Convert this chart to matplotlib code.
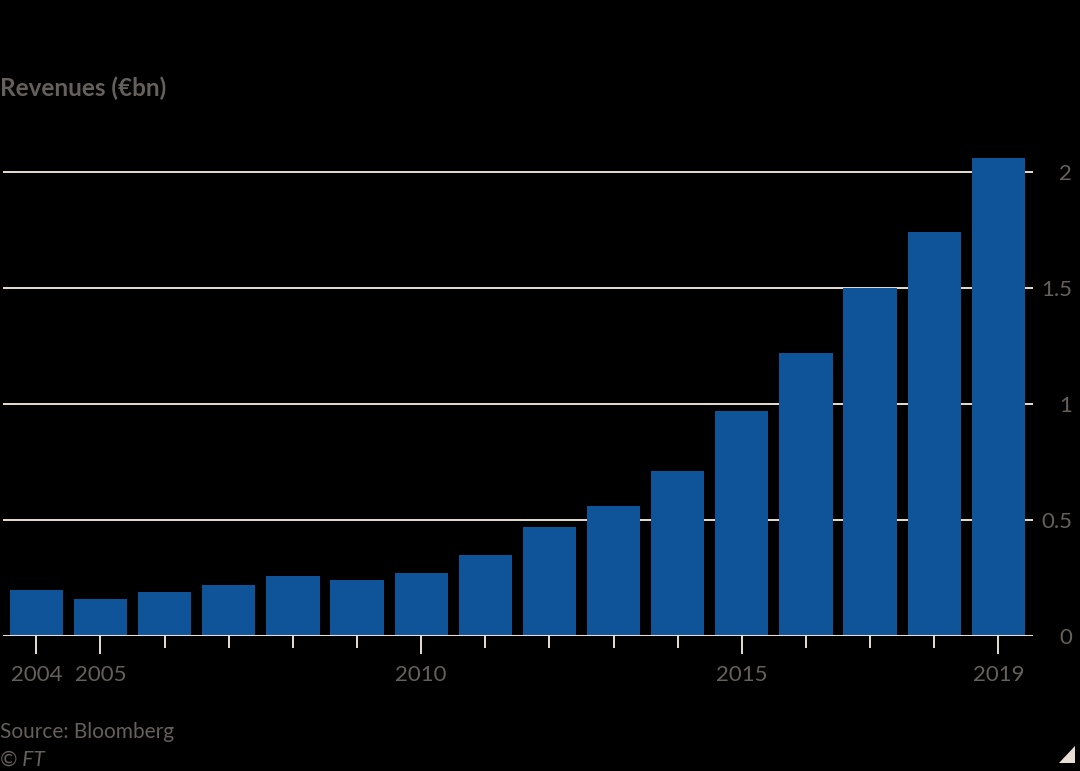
import matplotlib
matplotlib.use("Agg")
import matplotlib.pyplot as plt
from matplotlib.patches import Polygon

years = list(range(2004, 2020))
revenues = [0.20, 0.16, 0.19, 0.22, 0.26, 0.24, 0.27, 0.35, 0.47, 0.56,
            0.71, 0.97, 1.22, 1.50, 1.74, 2.06]
major_years = [2004, 2005, 2010, 2015, 2019]
minor_years = [y for y in years if y not in major_years]
y_ticks = [0, 0.5, 1, 1.5, 2]
y_labels = ["0", "0.5", "1", "1.5", "2"]

BG = "#000000"
BAR = "#0f5499"
GRID = "#e9ded3"
TXT = "#66605c"
FONT = "Lato"

fig = plt.figure(figsize=(10.8, 7.71), dpi=100, facecolor=BG)
ax = fig.add_axes([3/1080, 0.1751, 1030/1080, 0.6319])
ax.set_facecolor(BG)

ax.bar(years, revenues, width=0.83, color=BAR, zorder=2)
ax.axhline(0, color=GRID, lw=1.5, zorder=3)

ax.set_xlim(2003.48, 2019.54)
ax.set_ylim(0, 2.1)
ax.set_axisbelow(True)
ax.grid(axis="y", color=GRID, lw=1.4)
for s in ax.spines.values():
    s.set_visible(False)

ax.set_xticks(major_years)
ax.set_xticklabels([str(y) for y in major_years])
ax.set_xticks(minor_years, minor=True)
ax.tick_params(axis="x", which="major", length=13, width=1.4, color=GRID,
               labelsize=16, labelcolor=TXT, pad=8)
ax.tick_params(axis="x", which="minor", length=8.6, width=1.4, color=GRID)

ax.yaxis.tick_right()
ax.set_yticks(y_ticks)
ax.set_yticklabels(y_labels)
ax.tick_params(axis="y", length=0, labelsize=16, labelcolor=TXT, pad=28)
for t in ax.yaxis.get_major_ticks():
    t.label2.set_horizontalalignment("right")
    t.label2.set_fontfamily(FONT)
for lbl in ax.get_xticklabels():
    lbl.set_fontfamily(FONT)

fig.text(0, 1 - 88/771, "Revenues (€bn)", color=TXT, fontsize=17.5,
         fontweight="bold", family=FONT, ha="left", va="center")
fig.text(0, 1 - 732/771, "Source: Bloomberg", color=TXT, fontsize=15,
         family=FONT, ha="left", va="center")
fig.text(0, 1 - 760/771, "© FT", color=TXT, fontsize=15, style="italic",
         family=FONT, ha="left", va="center")

tri = Polygon([(1075/1080, 1 - 746/771), (1075/1080, 1 - 763/771),
               (1059/1080, 1 - 763/771)], closed=True,
              transform=fig.transFigure, color=GRID, lw=0)
fig.patches.append(tri)

fig.savefig("out.png", dpi=100, facecolor=BG)
